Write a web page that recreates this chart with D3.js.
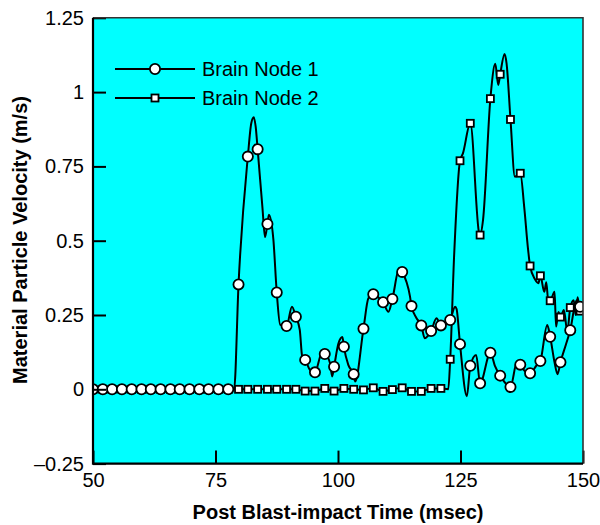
<!DOCTYPE html>
<html>
<head>
<meta charset="utf-8">
<script src="https://cdn.jsdelivr.net/npm/d3@7/dist/d3.min.js"></script>
<style>
  html, body { margin: 0; padding: 0; background: #ffffff; }
  svg { display: block; font-family: "Liberation Sans", Arial, Helvetica, sans-serif; }
</style>
</head>
<body>
<svg id="chart" width="600" height="525"></svg>
<script>
// Sample times (msec) where the node markers are plotted
const markTimes = [50, 52, 53.9, 55.9, 57.9, 59.9, 61.8, 63.8, 65.8, 67.7, 69.7, 71.7, 73.6, 75.6, 77.6,
  79.7, 81.6, 83.6, 85.6, 87.5, 89.5, 91.4, 93.3, 95.3, 97.3, 99.2, 101.2, 103.2, 105.2, 107.2,
  109.2, 111.1, 113.1, 115.0, 117.0, 119.0, 121.0, 122.9, 124.9, 127.0, 129.0, 131.1, 133.1,
  135.2, 137.2, 139.2, 141.3, 143.3, 145.4, 147.4, 149.4];

// Marker velocities (m/s)
const node1Marks = [0, 0, 0, 0, 0, 0, 0, 0, 0, 0, 0, 0, 0, 0, 0,
  0.353, 0.783, 0.808, 0.556, 0.326, 0.213, 0.244, 0.099, 0.057, 0.119, 0.076, 0.143, 0.051, 0.204, 0.320,
  0.293, 0.304, 0.395, 0.280, 0.215, 0.196, 0.215, 0.233, 0.152, 0.079, 0.020, 0.123, 0.046,
  0.008, 0.083, 0.054, 0.095, 0.177, 0.091, 0.199, 0.278];
const node2Marks = [0, 0, 0, 0, 0, 0, 0, 0, 0, 0, 0, 0, 0, 0, 0,
  0, 0, 0, 0, 0, 0, 0, -0.006, -0.006, 0.003, -0.006, 0.003, 0, -0.002, 0.005,
  -0.007, -0.001, 0.005, -0.007, -0.007, 0.003, 0.003, 0.101, 0.769, 0.895, 0.519, 0.978, 1.060,
  0.908, 0.727, 0.415, 0.382, 0.298, 0.243, 0.275, 0.263];

// Full velocity traces: [time (msec), velocity (m/s)]
const node1Trace = [
  [50, 0], [78.8, 0], [79.7, 0.353], [81.6, 0.783], [82.3, 0.895], [82.8, 0.915], [83.2, 0.884],
  [83.6, 0.808], [84.6, 0.607], [85.1, 0.512], [85.6, 0.556], [85.9, 0.587], [86.8, 0.506],
  [87.5, 0.326], [88.2, 0.217], [89.5, 0.213], [90.6, 0.278], [91.4, 0.244], [92.2, 0.2],
  [92.7, 0.11], [93.3, 0.099], [94.3, 0.065], [95.3, 0.057], [96.7, 0.121], [97.3, 0.119],
  [98.4, 0.087], [98.8, 0.043], [99.2, 0.076], [100.1, 0.155], [100.9, 0.176], [101.2, 0.143],
  [102.1, 0.082], [103.2, 0.051], [103.5, 0.026], [105.2, 0.204], [106.2, 0.306], [107.2, 0.320],
  [108.2, 0.31], [109.2, 0.293], [110.3, 0.261], [111.1, 0.304], [112.5, 0.407], [113.1, 0.395],
  [114.7, 0.312], [115.0, 0.280], [116.0, 0.24], [117.0, 0.215], [117.7, 0.172], [119.0, 0.196],
  [120.1, 0.239], [121.0, 0.215], [122.0, 0.22], [122.9, 0.233], [123.9, 0.278], [124.2, 0.27],
  [124.9, 0.152], [126.3, -0.023], [127.0, 0.079], [128.2, 0.115], [129.0, 0.020], [131.1, 0.123],
  [132.0, 0.08], [133.1, 0.046], [135.2, 0.008], [136.5, 0.09], [137.2, 0.083], [138.2, 0.06],
  [139.2, 0.054], [140.5, 0.08], [141.3, 0.095], [142.7, 0.216], [143.3, 0.177], [144.2, 0.09],
  [144.8, 0.051], [145.4, 0.091], [146.5, 0.15], [147.4, 0.199], [148.7, 0.30], [149.4, 0.278],
  [150, 0.29]
];
const node2Trace = [
  [50, 0], [91.4, 0], [93.3, -0.006], [95.3, -0.006], [97.3, 0.003], [99.2, -0.006], [101.2, 0.003],
  [103.2, 0], [105.2, -0.002], [107.2, 0.005], [109.2, -0.007], [111.1, -0.001], [113.1, 0.005],
  [115.0, -0.007], [117.0, -0.007], [119.0, 0.003], [121.0, 0.003], [122.5, 0.0], [122.9, 0.101],
  [123.7, 0.45], [124.9, 0.769], [125.5, 0.794], [127.0, 0.895], [128.8, 0.525], [129.0, 0.519],
  [129.6, 0.57], [131.1, 0.978], [132.1, 1.095], [132.7, 1.024], [133.1, 1.060], [134.0, 1.128],
  [134.4, 1.097], [135.2, 0.908], [136.1, 0.715], [136.6, 0.72], [137.2, 0.727], [138.0, 0.614],
  [138.8, 0.469], [139.2, 0.415], [140.2, 0.37], [140.9, 0.357], [141.3, 0.382], [142.1, 0.328],
  [142.5, 0.36], [142.9, 0.30], [143.3, 0.298], [144.2, 0.328], [144.5, 0.211], [145.0, 0.26],
  [145.4, 0.243], [146.1, 0.267], [146.8, 0.194], [147.4, 0.275], [148.1, 0.30], [148.5, 0.25],
  [148.9, 0.31], [149.4, 0.263], [150, 0.29]
];

const xTicks = [50, 75, 100, 125, 150];
const xTickLabels = ["50", "75", "100", "125", "150"];
const yTicks = [-0.25, 0, 0.25, 0.5, 0.75, 1, 1.25];
const yTickLabels = ["\u20130.25", "0", "0.25", "0.5", "0.75", "1", "1.25"];
const seriesNames = ["Brain Node 1", "Brain Node 2"];

const svg = d3.select("#chart");
const plot = { left: 93, right: 583, top: 17.8, bottom: 463.6 };
const circleR = 5.1;
const squareS = 7;

const x = d3.scaleLinear().domain([50, 150]).range([plot.left, plot.right]);
const y = d3.scaleLinear().domain([-0.25, 1.25]).range([plot.bottom, plot.top]);

// plot background
svg.append("rect")
  .attr("x", plot.left).attr("y", plot.top)
  .attr("width", plot.right - plot.left).attr("height", plot.bottom - plot.top)
  .attr("fill", "#00ffff");

svg.append("clipPath").attr("id", "plotClip").append("rect")
  .attr("x", plot.left).attr("y", plot.top)
  .attr("width", plot.right - plot.left).attr("height", plot.bottom - plot.top);

const line = d3.line()
  .x(d => x(d[0]))
  .y(d => y(d[1]))
  .curve(d3.curveMonotoneX);

const g = svg.append("g").attr("clip-path", "url(#plotClip)");

// Node 2 drawn first so Node 1 sits on top along the baseline
g.append("path").datum(node2Trace)
  .attr("d", line).attr("fill", "none").attr("stroke", "#000").attr("stroke-width", 2)
  .attr("stroke-linejoin", "round");
g.selectAll("rect.m2").data(markTimes.map((t, i) => [t, node2Marks[i]]))
  .join("rect").attr("class", "m2")
  .attr("x", d => x(d[0]) - squareS / 2).attr("y", d => y(d[1]) - squareS / 2)
  .attr("width", squareS).attr("height", squareS)
  .attr("fill", "#fff").attr("stroke", "#000").attr("stroke-width", 1.8);

g.append("path").datum(node1Trace)
  .attr("d", line).attr("fill", "none").attr("stroke", "#000").attr("stroke-width", 2)
  .attr("stroke-linejoin", "round");
g.selectAll("circle.m1").data(markTimes.map((t, i) => [t, node1Marks[i]]))
  .join("circle").attr("class", "m1")
  .attr("cx", d => x(d[0])).attr("cy", d => y(d[1]))
  .attr("r", circleR)
  .attr("fill", "#fff").attr("stroke", "#000").attr("stroke-width", 1.8);

// axes with inward ticks
const yAxis = d3.axisLeft(y).tickValues(yTicks)
  .tickFormat((d, i) => yTickLabels[i])
  .tickSizeInner(-13).tickSizeOuter(0).tickPadding(9);
const yg = svg.append("g").attr("transform", `translate(${plot.left},0)`).call(yAxis);

const xAxis = d3.axisBottom(x).tickValues(xTicks)
  .tickFormat((d, i) => xTickLabels[i])
  .tickSizeInner(-13).tickSizeOuter(0).tickPadding(9);
const xg = svg.append("g").attr("transform", `translate(0,${plot.bottom})`).call(xAxis);

[yg, xg].forEach(ax => {
  ax.select(".domain").remove();
  ax.selectAll(".tick line").attr("stroke", "#000").attr("stroke-width", 2);
  ax.selectAll(".tick text").attr("fill", "#000")
    .style("font-size", "20px").style("font-family", "'Liberation Sans', Arial, sans-serif");
});

// frame
svg.append("path")
  .attr("d", `M${plot.left},${plot.top}H${plot.right}V${plot.bottom}`)
  .attr("fill", "none").attr("stroke", "#333").attr("stroke-width", 1.6);
svg.append("path")
  .attr("d", `M${plot.left},${plot.top}V${plot.bottom}H${plot.right}`)
  .attr("fill", "none").attr("stroke", "#000").attr("stroke-width", 2.2);

// axis titles
svg.append("text")
  .attr("x", 338).attr("y", 519)
  .attr("text-anchor", "middle")
  .style("font-size", "20px").style("font-weight", "bold")
  .text("Post Blast-impact Time (msec)");
svg.append("text")
  .attr("transform", "translate(27,240) rotate(-90)")
  .attr("text-anchor", "middle")
  .style("font-size", "20px").style("font-weight", "bold")
  .text("Material Particle Velocity (m/s)");

// legend
const legend = svg.append("g");
seriesNames.forEach((name, i) => {
  const ly = 69 + i * 29;
  legend.append("line")
    .attr("x1", 115).attr("x2", 195).attr("y1", ly).attr("y2", ly)
    .attr("stroke", "#000").attr("stroke-width", 2);
  if (i === 0) {
    legend.append("circle").attr("cx", 155).attr("cy", ly).attr("r", circleR)
      .attr("fill", "#fff").attr("stroke", "#000").attr("stroke-width", 1.8);
  } else {
    legend.append("rect").attr("x", 155 - squareS / 2).attr("y", ly - squareS / 2)
      .attr("width", squareS).attr("height", squareS)
      .attr("fill", "#fff").attr("stroke", "#000").attr("stroke-width", 1.8);
  }
  legend.append("text")
    .attr("x", 202).attr("y", ly + 7)
    .style("font-size", "20px")
    .text(name);
});
</script>
</body>
</html>
